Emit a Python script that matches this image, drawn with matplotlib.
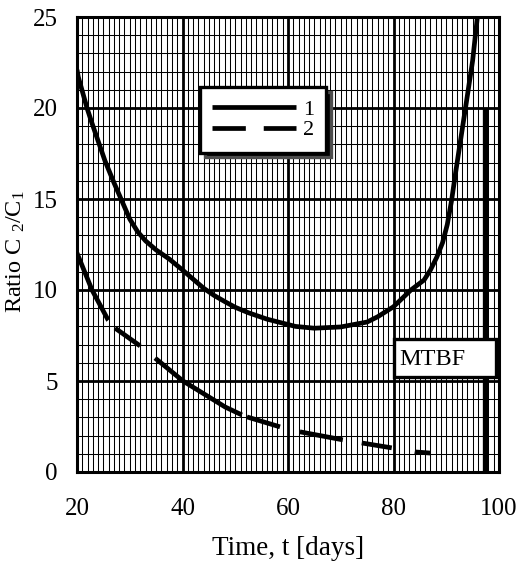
import matplotlib
matplotlib.use("Agg")
import matplotlib.pyplot as plt
from matplotlib.patches import Rectangle
from matplotlib.ticker import MultipleLocator

plt.rcParams['font.family'] = ['Liberation Serif', 'DejaVu Serif']
plt.rcParams['mathtext.fontset'] = 'custom'
plt.rcParams['mathtext.rm'] = 'Liberation Serif'
plt.rcParams['mathtext.it'] = 'Liberation Serif:italic'

# Data
t1 = [20, 20.25, 21.9, 22.8, 25.3, 27.0, 28.5, 30.0, 31.5, 33.0, 35.0, 37.5, 40.0,
      42.0, 44.0, 46.0, 48.1, 50.0, 52.5, 56, 61.4, 65, 70, 75, 77, 80, 83.3, 85.8,
      87.0, 88.2, 89.3, 90.2, 91.0, 91.8, 92.8, 93.7, 95.0, 95.9]
r1 = [22.1, 21.7, 20.0, 19.2, 17.1, 15.9, 14.9, 13.9, 13.2, 12.7, 12.2, 11.7, 11.1,
      10.6, 10.1, 9.7, 9.35, 9.05, 8.75, 8.4, 8.0, 7.9, 7.97, 8.24, 8.53, 9.08, 10.0,
      10.55, 11.1, 11.8, 12.6, 13.6, 14.9, 16.5, 18.4, 20.1, 22.6, 25.0]

t2 = [20, 22.85, 25.9, 27.2, 32.0, 34.8, 40.1, 48.1, 51.3, 52.3, 58.6, 62.4, 70.5,
      74.1, 79.8, 84.2, 87.0]
r2 = [12.03, 10.0, 8.35, 7.91, 6.92, 6.26, 5.0, 3.57, 3.13, 3.02, 2.47, 2.20, 1.76,
      1.59, 1.32, 1.10, 1.04]

mtbf_t = 97.3
mtbf_top = 20
series_labels = ['1', '2']
xticks = [20, 40, 60, 80, 100]
yticks = [0, 5, 10, 15, 20, 25]

fig = plt.figure(figsize=(5.23, 5.65), dpi=100)
ax = fig.add_axes([77/523, 1 - 472/565, 422/523, 455/565])
ax.set_xlim(20, 100)
ax.set_ylim(0, 25)

ax.xaxis.set_minor_locator(MultipleLocator(1))
ax.yaxis.set_minor_locator(MultipleLocator(1))
ax.set_xticks(xticks)
ax.set_yticks(yticks)
ax.grid(which='minor', color='black', lw=0.75, zorder=0)
ax.grid(which='major', color='black', lw=2.0, zorder=0)
ax.set_axisbelow(True)
ax.tick_params(which='both', length=0)
ax.tick_params(axis='x', pad=19, labelsize=18)
ax.tick_params(axis='y', pad=14, labelsize=18)
for s in ax.spines.values():
    s.set_linewidth(2.2)

lw = 3.4
ax.plot(t1, r1, color='black', lw=lw, label=series_labels[0], zorder=3,
        solid_capstyle='butt', solid_joinstyle='round')
s = 3.0 / lw
dash = (0, tuple(v * s for v in (17.8, 2.5, 7.4, 4.6, 25, 1.3, 8.3, 4.9, 10.5,
                                  4.6, 7.3, 5.6, 10, 100)))
ax.plot(t2, r2, color='black', lw=lw, linestyle=dash, label=series_labels[1], zorder=3)

ax.plot([mtbf_t, mtbf_t], [0, mtbf_top], color='black', lw=3.8, zorder=3,
        solid_capstyle='butt')

ax.add_patch(Rectangle((80, 5.2), 19.4, 2.1, facecolor='white', edgecolor='black',
                       lw=2.4, zorder=4))
ax.text(81.1, 6.2, 'MTBF', fontsize=17.5, va='center', ha='left', zorder=5)

leg = ax.legend(loc='upper left', bbox_to_anchor=(0.291, 0.846), borderaxespad=0,
                fontsize=16, handlelength=3.8, handletextpad=0.3, labelspacing=0.0,
                borderpad=0.55, fancybox=False, framealpha=1, edgecolor='black',
                shadow={'ox': 3.5, 'oy': -3.5, 'facecolor': 'black', 'alpha': 1})
leg.get_frame().set_linewidth(2.4)
leg.set_zorder(6)
h = leg.get_lines()
h[1].set_linestyle((0, (8 * s, 4.3 * s)))

ax.set_xlabel('Time, t [days]', fontsize=19.5)
ax.set_ylabel(r'Ratio C $_{2}$/C$_{1}$', fontsize=17.5)
ax.xaxis.set_label_coords(0.5, -0.14)
ax.yaxis.set_label_coords(-0.118, 0.484)

fig.savefig('out.png', dpi=100)
